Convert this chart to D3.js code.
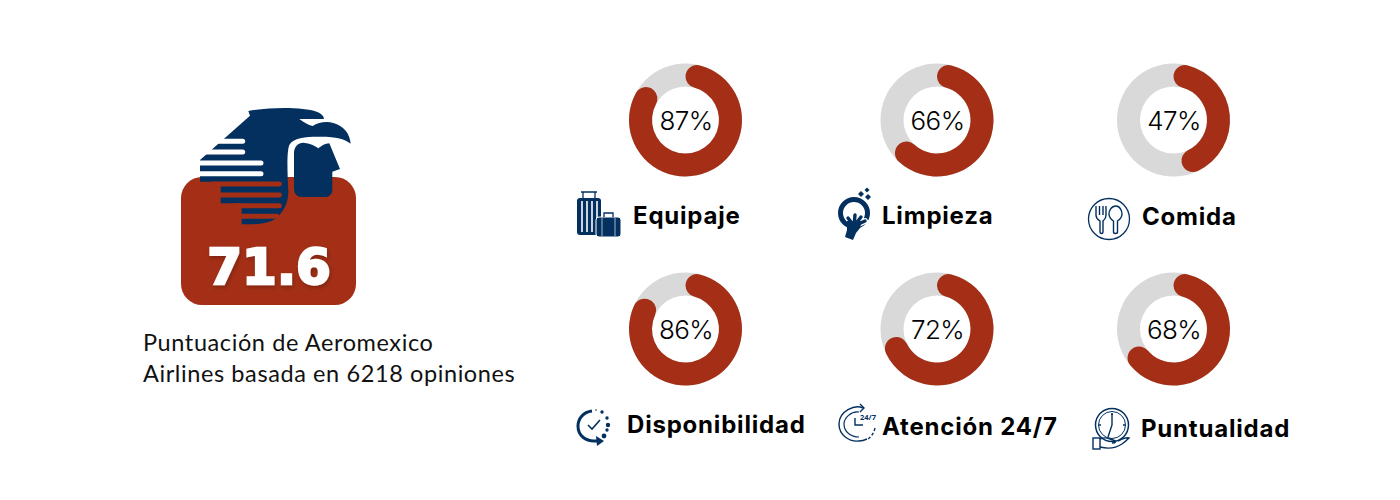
<!DOCTYPE html>
<html>
<head>
<meta charset="utf-8">
<script src="https://cdn.jsdelivr.net/npm/d3@7"></script>
<style>
  html, body { margin: 0; padding: 0; background: #fff; }
  svg { display: block; }
</style>
</head>
<body>
<svg class="chart"></svg>
<script>
const categories = ["Equipaje", "Limpieza", "Comida", "Disponibilidad", "Atención 24/7", "Puntualidad"];
const scores = [87, 66, 47, 86, 72, 68];
const overall = "71.6";
const caption = ["Puntuación de Aeromexico", "Airlines basada en 6218 opiniones"];

// layout, not data
const ringX = [685.5, 937, 1173.5, 685.5, 937, 1173.5];
const ringY = [120, 120, 120, 329, 329, 329];
const labelX = [633, 882, 1142, 627, 882, 1141];
const labelY = [224, 224, 225, 433, 435, 437];
const iconX = [599, 854, 1109, 595, 859, 1112];
const iconY = [214, 213, 219, 426, 423, 429];

const RED = "#a42f16", NAVY = "#03305f", GREY = "#d9d9d9";

const svg = d3.select("svg.chart").attr("width", 1400).attr("height", 500);

// ---- rings
const angle = d3.scaleLinear().domain([0, 100]).range([0, 2 * Math.PI]);
const arc = d3.arc().innerRadius(33.5).outerRadius(56.5).startAngle(0).cornerRadius(11.5);

const rings = svg.selectAll("g.ring")
  .data(scores)
  .join("g")
    .attr("class", "ring")
    .attr("transform", (d, i) => `translate(${ringX[i]},${ringY[i]})`);

rings.append("path")
  .attr("fill", GREY)
  .attr("d", d3.arc().innerRadius(33.5).outerRadius(56.5).startAngle(0).endAngle(2 * Math.PI)());

rings.append("path")
  .attr("fill", RED)
  .attr("d", d => arc({endAngle: angle(d)}));

rings.append("text")
  .attr("text-anchor", "middle")
  .attr("x", 0.5)
  .attr("y", 10)
  .style("font", "300 26px Inter")
  .style("letter-spacing", "-0.6px")
  .attr("fill", "#000")
  .text(d => d + "%");

svg.selectAll("text.label")
  .data(categories)
  .join("text")
    .attr("class", "label")
    .attr("x", (d, i) => labelX[i])
    .attr("y", (d, i) => labelY[i])
    .style("font", "bold 24px Inter")
    .style("letter-spacing", "0.8px")
    .attr("fill", "#000")
    .text(d => d);

// ---- score badge with the eagle
svg.append("rect")
  .attr("x", 181).attr("y", 177)
  .attr("width", 175).attr("height", 128)
  .attr("rx", 21)
  .attr("fill", RED);

const eagle = svg.append("g").attr("transform", "translate(170,95) scale(0.3333)");
eagle.append("path")
  .attr("fill", NAVY)
  .attr("d", "M235,48 C300,36 400,36 440,50 C455,56 462,64 462,72 L388,72 C400,82 415,90 428,93 C445,82 470,78 490,84 C520,92 540,115 542,146 C525,132 495,124 445,125 C405,125 370,128 358,150 C350,170 352,230 355,290 C355,325 340,350 320,368 C300,385 270,388 215,388 L215,325 L152,325 L152,260 L90,260 L90,195 L240,62 Z");
eagle.append("path")
  .attr("fill", NAVY)
  .attr("d", "M372,175 C372,155 385,143 400,143 C420,145 435,152 445,160 C455,152 465,146 478,145 L510,222 L487,230 L487,285 C487,298 478,306 465,306 L395,306 C382,306 372,296 372,282 Z");

// stripes cut through the body, white over the page and red over the badge
const stripes = [[139, 218, "#fff"], [171, 218, "#fff"], [204, 273, "#fff"], [236, 273, "#fff"],
                 [267, 328, RED], [300, 328, RED], [332, 328, RED], [364, 320, RED]];
const stripeLeft = [60, 60, 60, 60, 130, 130, 195, 195];
eagle.selectAll("line.stripe")
  .data(stripes)
  .join("line")
    .attr("class", "stripe")
    .attr("x1", (d, i) => stripeLeft[i])
    .attr("x2", d => d[1])
    .attr("y1", d => d[0])
    .attr("y2", d => d[0])
    .attr("stroke", d => d[2])
    .attr("stroke-width", 15)
    .attr("stroke-linecap", "round");

const shadow = svg.append("defs").append("filter").attr("id", "soft")
  .attr("x", "-10%").attr("y", "-10%").attr("width", "120%").attr("height", "130%");
shadow.append("feDropShadow")
  .attr("dx", 1).attr("dy", 2).attr("stdDeviation", 2)
  .attr("flood-color", "#000").attr("flood-opacity", 0.25);

svg.append("text")
  .attr("x", 269).attr("y", 283.5)
  .attr("text-anchor", "middle")
  .attr("filter", "url(#soft)")
  .style("font", "bold 50px 'DejaVu Sans'")
  .attr("fill", "#fff")
  .attr("stroke", "#fff")
  .attr("stroke-width", 2.4)
  .text(overall);

svg.selectAll("text.caption")
  .data(caption)
  .join("text")
    .attr("class", "caption")
    .attr("x", 143)
    .attr("y", (d, i) => 351 + i * 31)
    .style("font", "23.5px Lato")
    .style("letter-spacing", "0.6px")
    .attr("fill", "#111")
    .text(d => d);

// ---- small icons, each drawn around its own centre
const icons = [
  function suitcases(g) {
    g.append("rect").attr("x", -22).attr("y", -16).attr("width", 24).attr("height", 37).attr("rx", 3).attr("fill", NAVY);
    g.append("path").attr("d", "M-16,-16 V-22 H-4 V-16 M-18,-22 H-2").attr("fill", "none").attr("stroke", NAVY).attr("stroke-width", 1.3);
    g.selectAll("line.bar").data([-17, -12, -7, -2]).join("line").attr("class", "bar")
      .attr("x1", d => d).attr("x2", d => d).attr("y1", -13).attr("y2", 18)
      .attr("stroke", "#fff").attr("stroke-width", 1.6);
    g.append("rect").attr("x", -3).attr("y", 3).attr("width", 25).attr("height", 20).attr("rx", 3)
      .attr("fill", NAVY).attr("stroke", "#fff").attr("stroke-width", 1);
    g.append("path").attr("d", "M5,3 V-1 H14 V3").attr("fill", "none").attr("stroke", NAVY).attr("stroke-width", 1.3);
    g.append("path").attr("d", "M3,4 V22 M16,4 V22").attr("stroke", "#cfd8e3").attr("stroke-width", 0.8);
  },
  function cleaning(g) {
    g.append("circle").attr("r", 13.5).attr("fill", "none").attr("stroke", NAVY).attr("stroke-width", 5);
    const fingers = "M0,13 L-6,5 M0,13 L1,2 M0,13 L7,4 M0,13 L11,8";
    g.append("path").attr("d", fingers + " M0,13 L-5,24").attr("fill", "none")
      .attr("stroke", "#fff").attr("stroke-width", 6).attr("stroke-linecap", "round");
    g.append("path").attr("d", fingers).attr("fill", "none")
      .attr("stroke", NAVY).attr("stroke-width", 3.4).attr("stroke-linecap", "round");
    g.append("path").attr("fill", NAVY)
      .attr("d", "M-7,8 L8,8 L6,15 L2,20 L-1,27 L-9,24 L-7,17 Z");
    g.selectAll("path.spark").data([[7, -19, 3], [13, -23, 2.5], [14, -16, 3]]).join("path").attr("class", "spark")
      .attr("fill", NAVY)
      .attr("d", d => `M${d[0]},${d[1] - d[2]} L${d[0] + d[2]},${d[1]} L${d[0]},${d[1] + d[2]} L${d[0] - d[2]},${d[1]} Z`);
  },
  function cutlery(g) {
    g.attr("fill", "none").attr("stroke", NAVY);
    g.append("circle").attr("r", 20.5).attr("stroke-width", 1.3);
    g.append("path").attr("stroke-width", 1.4)
      .attr("d", "M-13,-13 V-4 C-13,0 -10,1 -9,2 V13 C-9,15 -6,15 -6,13 V2 C-5,1 -3,0 -3,-4 V-13 M-9.5,-13 V-4 M-6,-13 V-4");
    g.append("path").attr("stroke-width", 1.4)
      .attr("d", "M7,-13 C2,-13 0,-8 0,-5 C0,-1 3,1 4.5,2 V13 C4.5,15 8.5,15 8.5,13 V2 C10,1 13,-1 13,-5 C13,-8 11,-13 7,-13 Z");
  },
  function availability(g) {
    g.attr("fill", "none");
    g.append("path").attr("stroke", NAVY).attr("stroke-width", 3)
      .attr("d", "M-3,-15 C-12,-14 -17,-7 -17,0 C-17,10 -9,15 -1,15 L3,15");
    g.append("path").attr("fill", NAVY).attr("d", "M1,10 L9,15 L2,20 Z");
    g.append("path").attr("stroke", NAVY).attr("stroke-width", 1.6).attr("d", "M-7,-1 L-3,3 L5,-6");
    g.selectAll("circle.dot").data([[1, -16, 0.8], [7, -14, 1.7], [12, -8, 1.7], [13, -1, 2.2], [12, 4, 1.7], [9, 10, 2.4]])
      .join("circle").attr("class", "dot").attr("fill", NAVY)
      .attr("cx", d => d[0]).attr("cy", d => d[1]).attr("r", d => d[2]);
  },
  function support(g) {
    g.attr("fill", "none").attr("stroke", NAVY);
    g.append("path").attr("stroke-width", 1.4).attr("d", "M4,-15 C-4,-19 -20,-12 -20,1 C-20,12 -10,19 0,18 C4,18 6,17 8,16");
    g.append("path").attr("stroke-width", 1.2).attr("d", "M0,-11 C-8,-12 -15,-5 -15,1 C-15,9 -8,14 0,14");
    g.append("path").attr("stroke-width", 1.4).attr("d", "M1,-19 L5,-15 L1,-11");
    g.append("path").attr("stroke-width", 1.4).attr("d", "M-4,-5 V2 H4");
    g.append("path").attr("stroke-width", 1.4).attr("stroke-dasharray", "3 2").attr("d", "M16,5 C15,10 12,14 9,16");
    g.append("text").attr("x", 1).attr("y", -3).attr("stroke", "none").attr("fill", NAVY)
      .style("font", "bold 7.5px 'Noto Sans'").text("24/7");
  },
  function punctual(g) {
    g.attr("fill", "none").attr("stroke", NAVY);
    g.append("circle").attr("cy", -4).attr("r", 16.5).attr("stroke-width", 1.5);
    g.append("circle").attr("cy", -4).attr("r", 13.5).attr("stroke-width", 1);
    g.append("path").attr("stroke-width", 1.4).attr("d", "M0,-15 V-4 L-4,8 M-1,-15 H1 M-13,-4 H-11 M11,-4 H13");
    g.append("path").attr("stroke-width", 1.4)
      .attr("d", "M-12,10 C-6,7 -3,10 1,11 C5,12 4,14 0,14 M-12,18 C-4,20 4,19 10,15 C14,12 17,9 17,9 C14,8 10,10 6,12");
    g.append("rect").attr("x", -19).attr("y", 9).attr("width", 7).attr("height", 11).attr("stroke-width", 1.4);
  }
];

svg.selectAll("g.icon")
  .data(icons)
  .join("g")
    .attr("class", "icon")
    .attr("transform", (d, i) => `translate(${iconX[i]},${iconY[i]})`)
    .each(function(draw) { draw(d3.select(this)); });
</script>
</body>
</html>
